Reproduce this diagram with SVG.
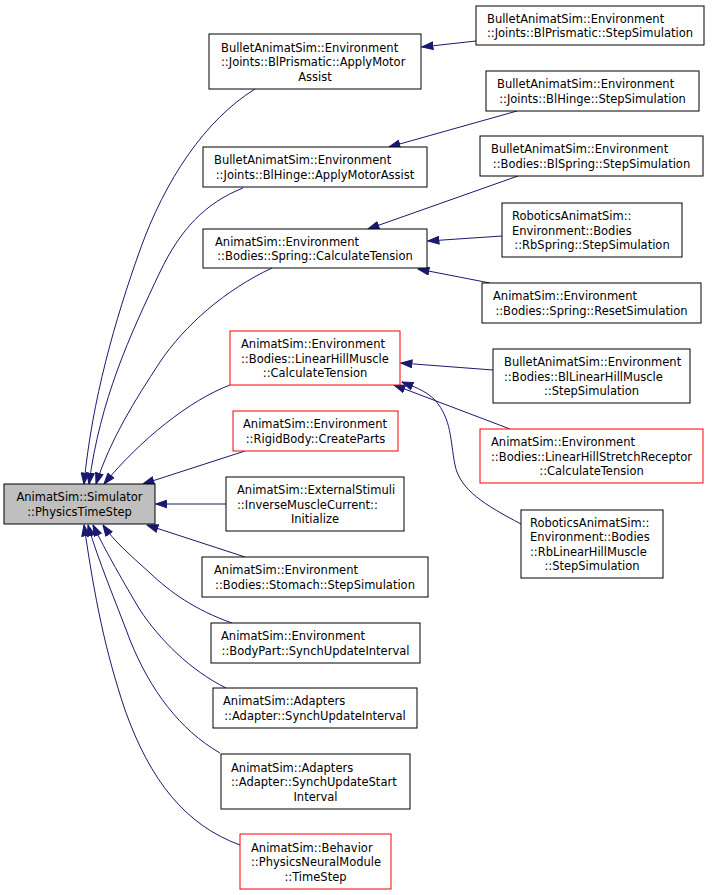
<svg xmlns="http://www.w3.org/2000/svg" width="713" height="895" viewBox="0 0 713 895">
<style>
rect{fill:#fff;stroke:#000;stroke-width:1}
rect.red{stroke:#ff0000}
rect.main{fill:#bfbfbf}
text{font-family:"DejaVu Sans",Verdana,sans-serif;font-size:11.5px;fill:#000}
text.c{text-anchor:middle}
#edges path{fill:none;stroke:#191970;stroke-width:1;marker-end:url(#ah)}
</style>
<defs>
<marker id="ah" markerUnits="userSpaceOnUse" markerWidth="12" markerHeight="9" viewBox="0 0 11 8" refX="10.5" refY="4" orient="auto">
<path d="M0.5,0.5 L10.5,4 L0.5,7.5 Z" fill="#191970" stroke="#191970" stroke-width="1"/>
</marker>
</defs>
<rect width="713" height="895" style="fill:#fff;stroke:none"/>
<g id="edges">
<path d="M255,89 C205,120 165,180 140,250 C115,320 92,400 84,484"/>
<path d="M243,188 C205,203 180,230 160,272 C130,335 100,400 89,484"/>
<path d="M272,268 C225,290 185,325 160,362 C135,400 110,440 96,484"/>
<path d="M230,385 C190,400 140,440 104,484"/>
<path d="M245,451 L143,484"/>
<path d="M226,504 L156,504"/>
<path d="M245,557 L147,525"/>
<path d="M232,623 C195,610 170,592 150,573 C130,555 113,540 103,525"/>
<path d="M226,688 C190,670 160,640 140,610 C125,585 105,550 93,525"/>
<path d="M220,753 C180,730 150,690 130,640 C115,600 98,560 88,525"/>
<path d="M240,845 C185,825 150,780 125,710 C105,650 95,600 84,525"/>
<path d="M476,41 L422,47"/>
<path d="M517,111 L389,147"/>
<path d="M518,176 L368,229"/>
<path d="M502,236 L428,241"/>
<path d="M490,283 L418,269"/>
<path d="M493,370 L401,363"/>
<path d="M510,429 L394,385"/>
<path d="M521,524 C485,505 460,490 455,465 C450,440 452,420 435,400 C425,390 412,386 402,382"/>
</g>
<g id="main">
<rect class="main" x="4" y="484" width="151" height="40"/>
<text class="c" x="79.5" y="501.25">AnimatSim::Simulator</text>
<text class="c" x="79.5" y="515.75">::PhysicsTimeStep</text>
</g>
<g id="n1">
<rect x="209" y="34" width="212" height="55"/>
<text x="221" y="51.5">BulletAnimatSim::Environment</text>
<text x="221" y="66">::Joints::BlPrismatic::ApplyMotor</text>
<text class="c" x="315" y="80.5">Assist</text>
</g>
<g id="n2">
<rect x="476" y="6" width="228" height="39"/>
<text x="487" y="22.75">BulletAnimatSim::Environment</text>
<text class="c" x="590" y="37.25">::Joints::BlPrismatic::StepSimulation</text>
</g>
<g id="n3">
<rect x="486" y="71" width="213" height="40"/>
<text x="497" y="88.25">BulletAnimatSim::Environment</text>
<text class="c" x="592.5" y="102.75">::Joints::BlHinge::StepSimulation</text>
</g>
<g id="n4">
<rect x="203" y="147" width="224" height="40"/>
<text x="214" y="164.25">BulletAnimatSim::Environment</text>
<text class="c" x="315" y="178.75">::Joints::BlHinge::ApplyMotorAssist</text>
</g>
<g id="n5">
<rect x="480" y="136" width="223" height="40"/>
<text x="491" y="153.25">BulletAnimatSim::Environment</text>
<text class="c" x="591.5" y="167.75">::Bodies::BlSpring::StepSimulation</text>
</g>
<g id="n6">
<rect x="203" y="229" width="224" height="39"/>
<text x="215" y="245.75">AnimatSim::Environment</text>
<text class="c" x="315" y="260.25">::Bodies::Spring::CalculateTension</text>
</g>
<g id="n7">
<rect x="502" y="203" width="180" height="54"/>
<text x="512" y="220">RoboticsAnimatSim::</text>
<text x="512" y="234.5">Environment::Bodies</text>
<text class="c" x="592" y="249">::RbSpring::StepSimulation</text>
</g>
<g id="n8">
<rect x="482" y="283" width="219" height="40"/>
<text x="493" y="300.25">AnimatSim::Environment</text>
<text class="c" x="591.5" y="314.75">::Bodies::Spring::ResetSimulation</text>
</g>
<g id="n9">
<rect class="red" x="230" y="331" width="170" height="54"/>
<text x="241" y="348">AnimatSim::Environment</text>
<text x="241" y="362.5">::Bodies::LinearHillMuscle</text>
<text class="c" x="315" y="377">::CalculateTension</text>
</g>
<g id="n10">
<rect x="493" y="349" width="197" height="54"/>
<text x="504" y="366">BulletAnimatSim::Environment</text>
<text x="504" y="380.5">::Bodies::BlLinearHillMuscle</text>
<text class="c" x="591.5" y="395">::StepSimulation</text>
</g>
<g id="n11">
<rect class="red" x="233" y="411" width="165" height="40"/>
<text x="243" y="428.25">AnimatSim::Environment</text>
<text class="c" x="315.5" y="442.75">::RigidBody::CreateParts</text>
</g>
<g id="n12">
<rect class="red" x="480" y="429" width="223" height="54"/>
<text x="491" y="446">AnimatSim::Environment</text>
<text x="491" y="460.5">::Bodies::LinearHillStretchReceptor</text>
<text class="c" x="591.5" y="475">::CalculateTension</text>
</g>
<g id="n13">
<rect x="226" y="477" width="178" height="54"/>
<text x="237" y="494">AnimatSim::ExternalStimuli</text>
<text x="237" y="508.5">::InverseMuscleCurrent::</text>
<text class="c" x="315" y="523">Initialize</text>
</g>
<g id="n14">
<rect x="521" y="510" width="142" height="68"/>
<text x="530" y="526.75">RoboticsAnimatSim::</text>
<text x="530" y="541.25">Environment::Bodies</text>
<text x="530" y="555.75">::RbLinearHillMuscle</text>
<text class="c" x="592" y="570.25">::StepSimulation</text>
</g>
<g id="n15">
<rect x="202" y="557" width="226" height="40"/>
<text x="214" y="574.25">AnimatSim::Environment</text>
<text class="c" x="315" y="588.75">::Bodies::Stomach::StepSimulation</text>
</g>
<g id="n16">
<rect x="211" y="623" width="209" height="40"/>
<text x="221" y="640.25">AnimatSim::Environment</text>
<text class="c" x="315.5" y="654.75">::BodyPart::SynchUpdateInterval</text>
</g>
<g id="n17">
<rect x="213" y="688" width="204" height="40"/>
<text x="223" y="705.25">AnimatSim::Adapters</text>
<text class="c" x="315" y="719.75">::Adapter::SynchUpdateInterval</text>
</g>
<g id="n18">
<rect x="221" y="754" width="189" height="55"/>
<text x="231" y="771.5">AnimatSim::Adapters</text>
<text x="231" y="786">::Adapter::SynchUpdateStart</text>
<text class="c" x="315.5" y="800.5">Interval</text>
</g>
<g id="n19">
<rect class="red" x="240" y="834" width="151" height="55"/>
<text x="251" y="851.5">AnimatSim::Behavior</text>
<text x="251" y="866">::PhysicsNeuralModule</text>
<text class="c" x="315.5" y="880.5">::TimeStep</text>
</g>
</svg>
